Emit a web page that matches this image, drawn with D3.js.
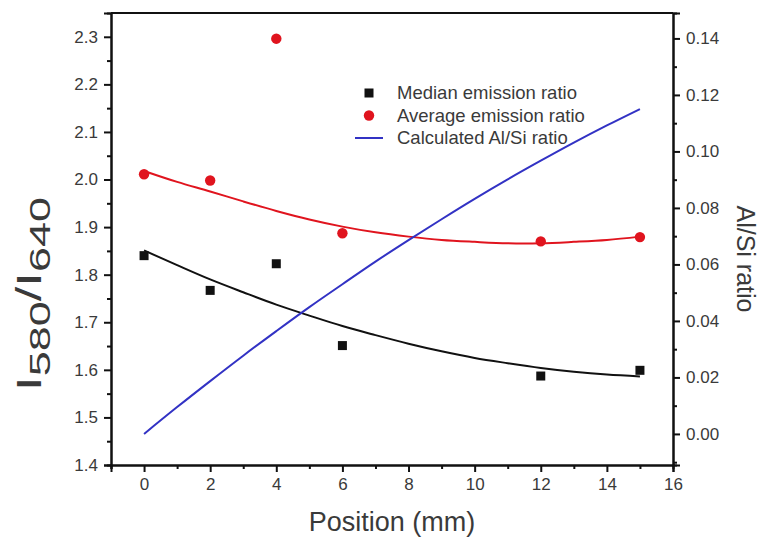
<!DOCTYPE html>
<html>
<head>
<meta charset="utf-8">
<script src="https://cdn.jsdelivr.net/npm/d3@7"></script>
<style>
  html, body { margin: 0; padding: 0; background: #fff; }
  svg { display: block; font-family: Arial, "Liberation Sans", Helvetica, sans-serif; }
</style>
</head>
<body>
<svg id="chart" width="762" height="539"></svg>
<script>
// Measured positions along the sample (mm)
const positions = [0, 2, 4, 6, 12, 15];
// I580/I640 emission ratios
const medianRatio = [1.840, 1.767, 1.823, 1.651, 1.587, 1.599];
const averageRatio = [2.011, 1.998, 2.296, 1.887, 1.870, 1.879];

// Smooth fitted trends sampled every 1 mm
const fitX = [0, 1, 2, 3, 4, 5, 6, 7, 8, 9, 10, 11, 12, 13, 14, 15];
const medianFit = [1.851, 1.820, 1.790, 1.763, 1.737, 1.714, 1.692, 1.673, 1.655, 1.639, 1.625, 1.614, 1.604, 1.596, 1.590, 1.586];
const averageFit = [2.018, 1.995, 1.975, 1.954, 1.934, 1.916, 1.901, 1.889, 1.880, 1.873, 1.869, 1.866, 1.866, 1.869, 1.873, 1.880];
// Calculated Al/Si ratio (right axis)
const alSiRatio = [0.000, 0.0095, 0.0187, 0.0277, 0.0364, 0.0449, 0.0530, 0.0610, 0.0686, 0.0760, 0.0832, 0.0901, 0.0967, 0.1031, 0.1092, 0.1150];

// Tick values
const xTicks = [0, 2, 4, 6, 8, 10, 12, 14, 16];
const xMinor = [-1, 1, 3, 5, 7, 9, 11, 13, 15];
const yLeftTicks = [1.4, 1.5, 1.6, 1.7, 1.8, 1.9, 2.0, 2.1, 2.2, 2.3];
const yLeftMinor = [1.45, 1.55, 1.65, 1.75, 1.85, 1.95, 2.05, 2.15, 2.25];
const yRightTicks = [0.00, 0.02, 0.04, 0.06, 0.08, 0.10, 0.12, 0.14];
const yRightMinor = [-0.01, 0.01, 0.03, 0.05, 0.07, 0.09, 0.11, 0.13];

const legendLabels = ["Median emission ratio", "Average emission ratio", "Calculated Al/Si ratio"];

const colors = { median: "#111111", average: "#e0141e", alsi: "#3232c4" };

const svg = d3.select("#chart");
const plot = { left: 111, right: 673, top: 13, bottom: 465 };

const x = d3.scaleLinear().domain([-1, 16]).range([plot.left, plot.right]);
const yL = d3.scaleLinear().domain([1.4, 2.35]).range([plot.bottom, plot.top]);
const yR = d3.scaleLinear().domain([-0.011, 0.149]).range([plot.bottom, plot.top]);

const tickFont = 17;
const axisColor = "#111";
const textColor = "#3a3a3a";

function styleAxis(g) {
  g.select(".domain").attr("stroke", axisColor).attr("stroke-width", 2);
  g.selectAll(".tick line").attr("stroke", axisColor).attr("stroke-width", 2);
  g.selectAll(".tick text").attr("fill", textColor).style("font-size", tickFont + "px");
}

// Frame: top edge
svg.append("line")
  .attr("x1", plot.left).attr("x2", plot.right)
  .attr("y1", plot.top).attr("y2", plot.top)
  .attr("stroke", axisColor).attr("stroke-width", 2);

// Bottom axis
const gx = svg.append("g").attr("transform", `translate(0,${plot.bottom})`);
gx.call(d3.axisBottom(x).tickValues(xTicks).tickSize(7).tickPadding(6).tickFormat(d3.format("d")));
styleAxis(gx);
const gxm = svg.append("g").attr("transform", `translate(0,${plot.bottom})`);
gxm.call(d3.axisBottom(x).tickValues(xMinor).tickSize(4).tickFormat(""));
styleAxis(gxm);

// Left axis
const gyl = svg.append("g").attr("transform", `translate(${plot.left},0)`);
gyl.call(d3.axisLeft(yL).tickValues(yLeftTicks).tickSize(7).tickPadding(6).tickFormat(d3.format(".1f")));
styleAxis(gyl);
const gylm = svg.append("g").attr("transform", `translate(${plot.left},0)`);
gylm.call(d3.axisLeft(yL).tickValues(yLeftMinor).tickSize(4).tickFormat(""));
styleAxis(gylm);

// Right axis
const gyr = svg.append("g").attr("transform", `translate(${plot.right},0)`);
gyr.call(d3.axisRight(yR).tickValues(yRightTicks).tickSize(7).tickPadding(6).tickFormat(d3.format(".2f")));
styleAxis(gyr);
const gyrm = svg.append("g").attr("transform", `translate(${plot.right},0)`);
gyrm.call(d3.axisRight(yR).tickValues(yRightMinor).tickSize(4).tickFormat(""));
styleAxis(gyrm);

// Fitted curves
const fitLine = (scale, vals) => d3.line()
  .x((d, i) => x(fitX[i]))
  .y((d) => scale(d))
  .curve(d3.curveCatmullRom)(vals);

svg.append("path").attr("d", fitLine(yL, averageFit))
  .attr("fill", "none").attr("stroke", colors.average).attr("stroke-width", 2);
svg.append("path").attr("d", fitLine(yL, medianFit))
  .attr("fill", "none").attr("stroke", colors.median).attr("stroke-width", 2);
svg.append("path").attr("d", fitLine(yR, alSiRatio))
  .attr("fill", "none").attr("stroke", colors.alsi).attr("stroke-width", 2);

// Data points
const sq = 9;
svg.append("g").selectAll("rect").data(medianRatio).join("rect")
  .attr("x", (d, i) => x(positions[i]) - sq / 2)
  .attr("y", (d) => yL(d) - sq / 2)
  .attr("width", sq).attr("height", sq)
  .attr("fill", colors.median);
svg.append("g").selectAll("circle").data(averageRatio).join("circle")
  .attr("cx", (d, i) => x(positions[i]))
  .attr("cy", (d) => yL(d))
  .attr("r", 5.2)
  .attr("fill", colors.average);

// Legend
const legend = svg.append("g").attr("transform", "translate(369,93)");
const rowH = 22.5;
legendLabels.forEach((label, i) => {
  const row = legend.append("g").attr("transform", `translate(0,${i * rowH})`);
  if (i === 0) {
    row.append("rect").attr("x", -4.5).attr("y", -4.5).attr("width", 9).attr("height", 9).attr("fill", colors.median);
  } else if (i === 1) {
    row.append("circle").attr("r", 5.2).attr("fill", colors.average);
  } else {
    row.append("line").attr("x1", -14).attr("x2", 14).attr("y1", 0).attr("y2", 0)
      .attr("stroke", colors.alsi).attr("stroke-width", 2);
  }
  row.append("text").attr("x", 28).attr("y", 0).attr("dy", "0.35em")
    .attr("fill", textColor).style("font-size", "18.5px").text(label);
});

// Axis titles
svg.append("text")
  .attr("x", 392).attr("y", 531)
  .attr("text-anchor", "middle")
  .attr("fill", textColor).style("font-size", "27px")
  .text("Position (mm)");

// Left title, widened along its reading direction
const leftTitle = svg.append("text")
  .attr("transform", "translate(41,294) rotate(-90) scale(1.5,1)")
  .attr("text-anchor", "middle")
  .attr("fill", textColor).style("font-size", "35px");
leftTitle.append("tspan").text("I");
leftTitle.append("tspan").attr("dy", 9).style("font-size", "30px").text("580");
leftTitle.append("tspan").attr("dy", -9).text("/I");
leftTitle.append("tspan").attr("dy", 9).style("font-size", "30px").text("640");

svg.append("text")
  .attr("transform", "translate(737,259) rotate(90)")
  .attr("text-anchor", "middle")
  .attr("fill", textColor).style("font-size", "25px")
  .text("Al/Si ratio");
</script>
</body>
</html>
